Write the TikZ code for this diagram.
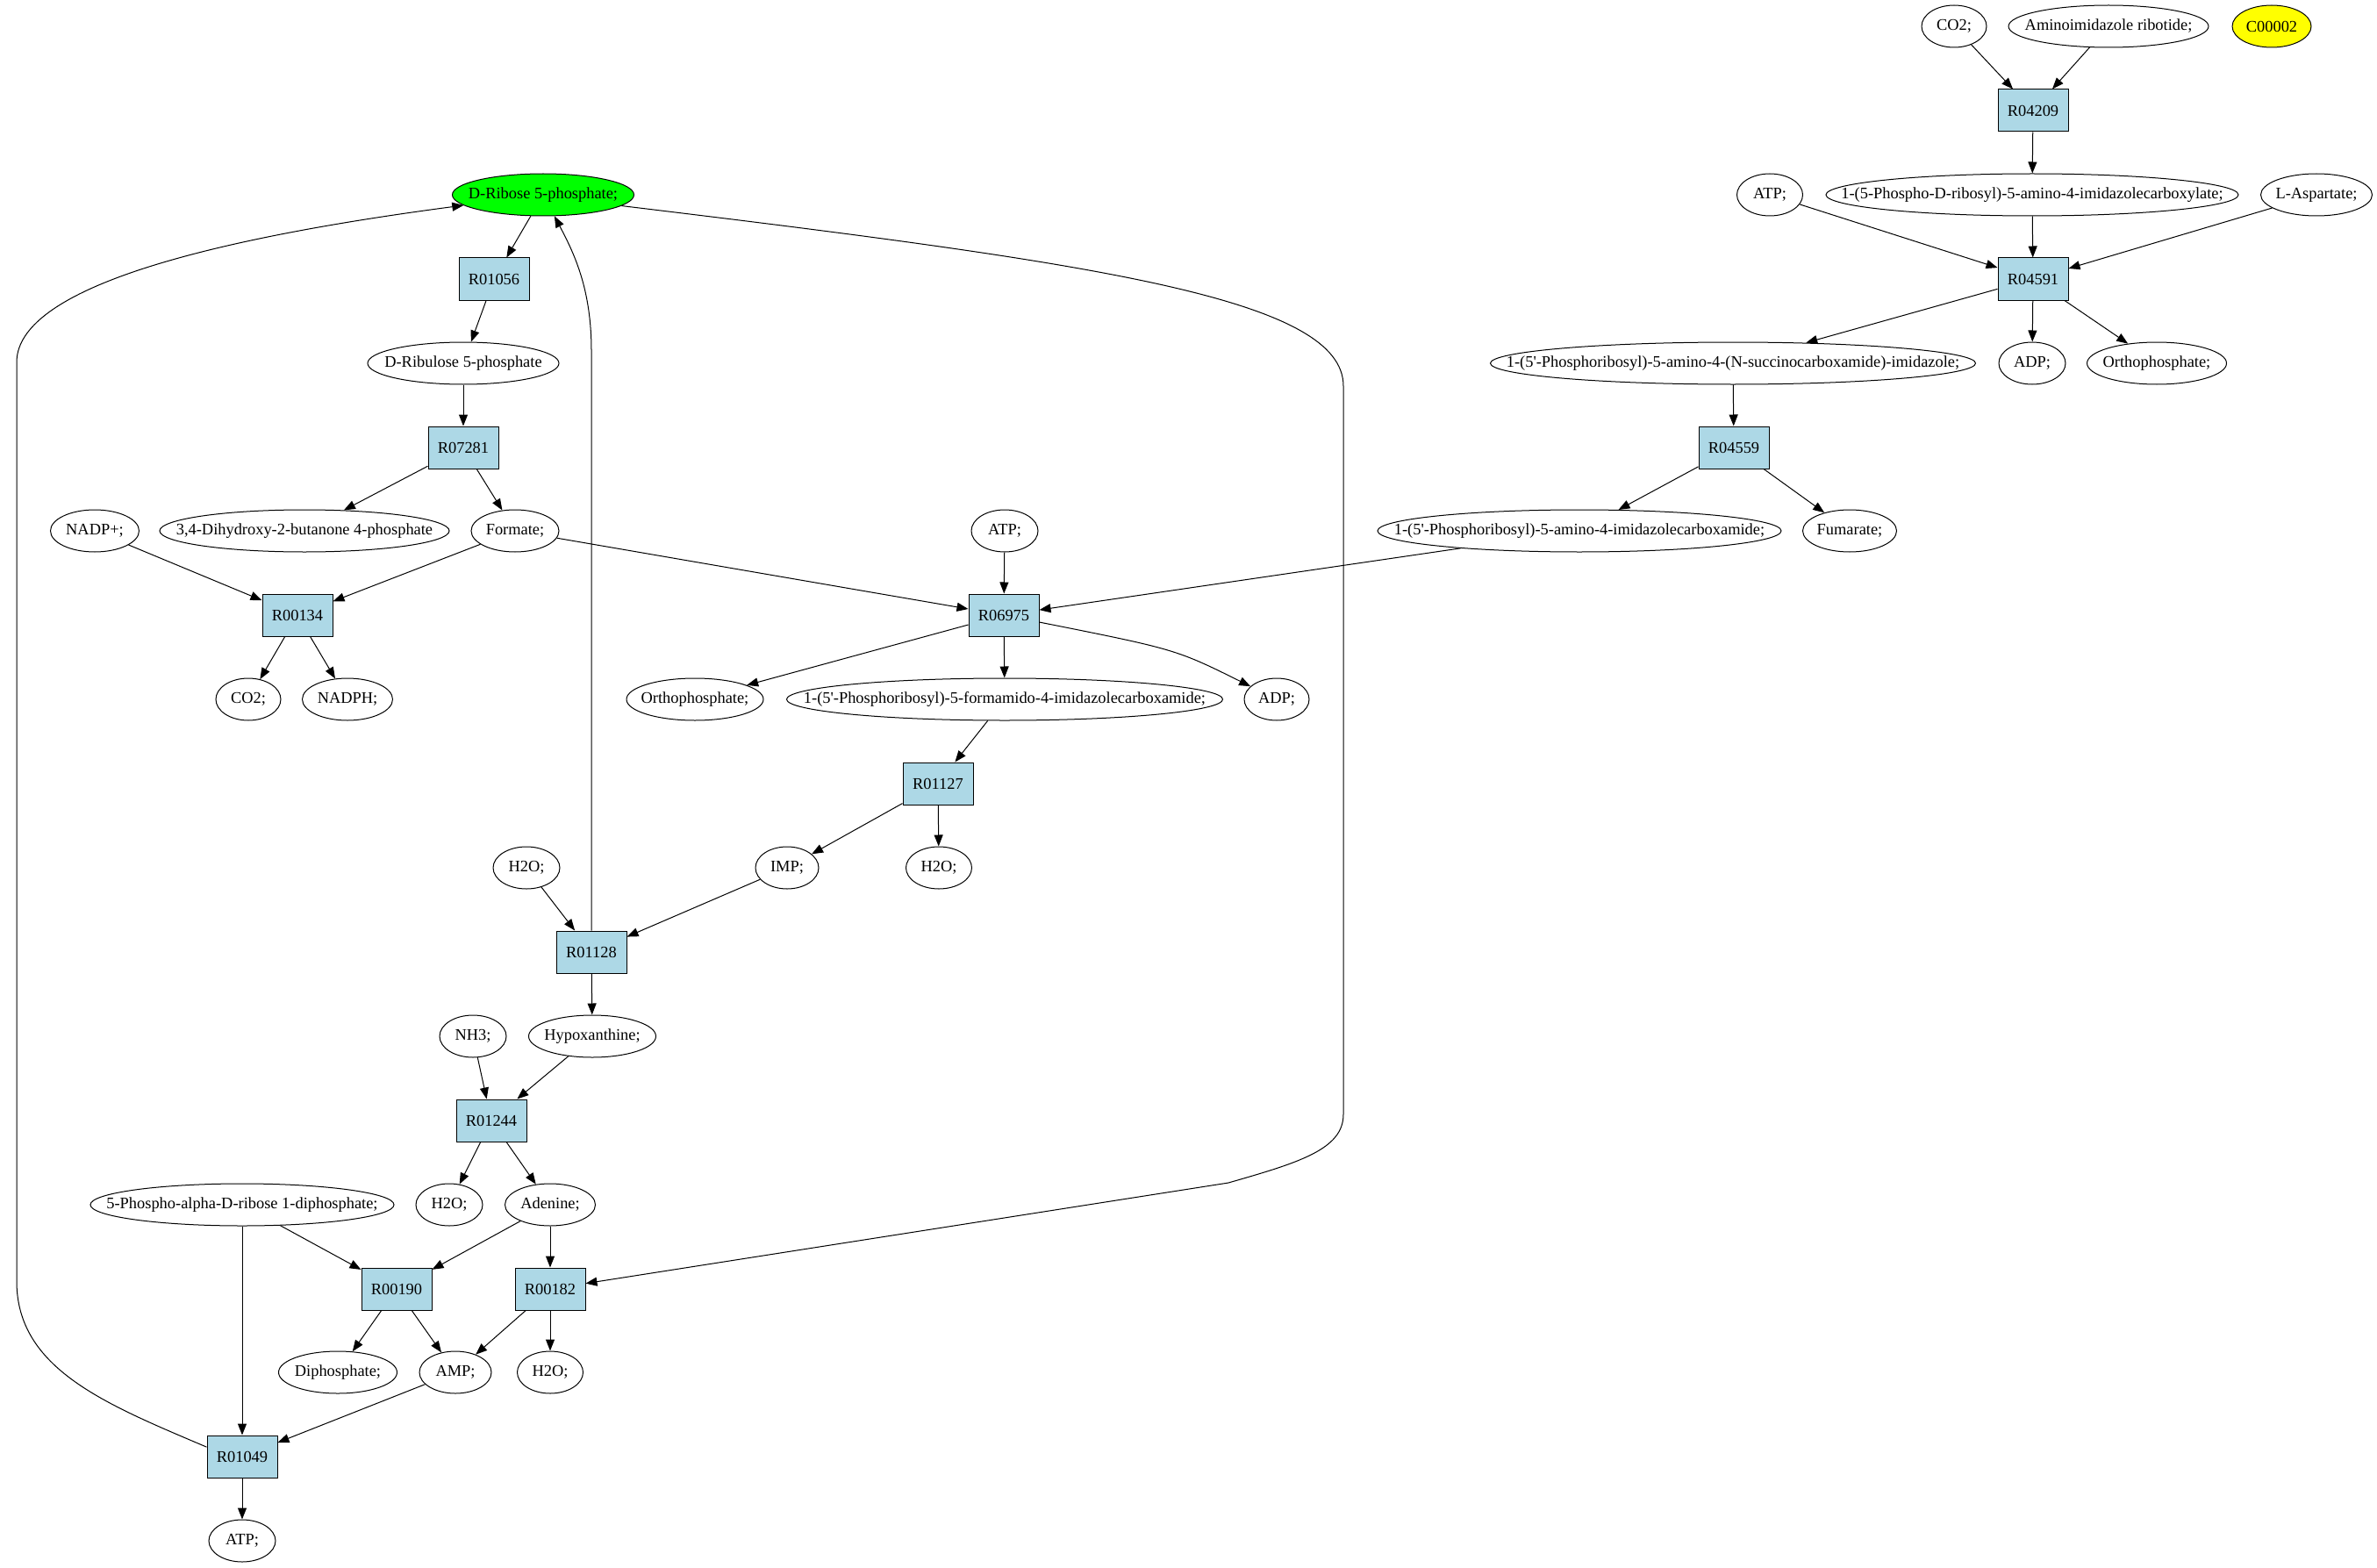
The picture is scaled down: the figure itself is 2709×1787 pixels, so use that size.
\documentclass[tikz,border=0pt]{standalone}
\usepackage{fontspec}
\newfontfamily\gvfont{Liberation Serif}
\usetikzlibrary{arrows.meta,shapes.geometric}
\definecolor{rxnblue}{HTML}{ADD8E6}
\definecolor{srcgreen}{HTML}{00FF00}
\definecolor{tgtyellow}{HTML}{FFFF00}

\begin{document}
\begin{tikzpicture}[x=0.5pt, y=-0.5pt, line width=0.5pt,
        >={Triangle[length=6.5pt,width=5pt]},
        every node/.style={font=\gvfont\fontsize{9.2}{11}\selectfont},
        rxn/.style={draw, fill=rxnblue, minimum width=40pt, minimum height=24pt, inner sep=0pt},
        met/.style={draw, ellipse, inner xsep=-80pt, inner ysep=0pt, minimum height=24pt, minimum width=#1*0.5pt}]

        \useasboundingbox (0,0) rectangle (2709,1787);

        \node[met=74] (co2a) at (2227, 30) {CO2;};
        \node[met=228] (air) at (2403, 30) {Aminoimidazole ribotide;};
        \node[met=90, fill=tgtyellow] (c00002) at (2589, 30) {C00002};
        \node[rxn] (r04209) at (2317, 126) {R04209};

        \node[met=207, fill=srcgreen] (dr5p) at (619, 222) {D-Ribose 5-phosphate;};
        \node[met=75] (atpa) at (2017, 222) {ATP;};
        \node[met=470] (caic) at (2316, 222) {1-(5-Phospho-D-ribosyl)-5-amino-4-imidazolecarboxylate;};
        \node[met=127] (asp) at (2640, 222) {L-Aspartate;};

        \node[rxn] (r01056) at (563, 318) {R01056};
        \node[rxn] (r04591) at (2317, 318) {R04591};

        \node[met=218] (ru5p) at (528, 414) {D-Ribulose 5-phosphate};
        \node[met=553] (saicar) at (1975, 414) {1-(5'-Phosphoribosyl)-5-amino-4-(N-succinocarboxamide)-imidazole;};
        \node[met=76] (adpa) at (2316, 414) {ADP;};
        \node[met=159] (pia) at (2458, 414) {Orthophosphate;};

        \node[rxn] (r07281) at (528, 510) {R07281};
        \node[rxn] (r04559) at (1976, 510) {R04559};

        \node[met=101] (nadp) at (108, 605) {NADP+;};
        \node[met=330] (dhbp) at (347, 605) {3,4-Dihydroxy-2-butanone 4-phosphate};
        \node[met=100] (formate) at (587, 605) {Formate;};
        \node[met=76] (atpb) at (1145, 605) {ATP;};
        \node[met=460] (aicar) at (1800, 605) {1-(5'-Phosphoribosyl)-5-amino-4-imidazolecarboxamide;};
        \node[met=107] (fum) at (2108, 605) {Fumarate;};

        \node[rxn] (r00134) at (339, 701) {R00134};
        \node[rxn] (r06975) at (1144, 701) {R06975};

        \node[met=74] (co2b) at (283, 797) {CO2;};
        \node[met=103] (nadph) at (396, 797) {NADPH;};
        \node[met=156] (pib) at (792, 797) {Orthophosphate;};
        \node[met=497] (faicar) at (1145, 797) {1-(5'-Phosphoribosyl)-5-formamido-4-imidazolecarboxamide;};
        \node[met=74] (adpb) at (1455, 797) {ADP;};

        \node[rxn] (r01127) at (1069, 893) {R01127};

        \node[met=76] (h2oa) at (600, 989) {H2O;};
        \node[met=72] (imp) at (897, 989) {IMP;};
        \node[met=75] (h2ob) at (1070, 989) {H2O;};

        \node[rxn] (r01128) at (674, 1085) {R01128};

        \node[met=76] (nh3) at (539, 1181) {NH3;};
        \node[met=145] (hyp) at (675, 1181) {Hypoxanthine;};

        \node[rxn] (r01244) at (560, 1277) {R01244};

        \node[met=346] (prpp) at (276, 1373) {5-Phospho-alpha-D-ribose 1-diphosphate;};
        \node[met=76] (h2oc) at (512, 1373) {H2O;};
        \node[met=103] (ade) at (627, 1373) {Adenine;};

        \node[rxn] (r00190) at (452, 1469) {R00190};
        \node[rxn] (r00182) at (627, 1469) {R00182};

        \node[met=135] (ppi) at (385, 1564) {Diphosphate;};
        \node[met=82] (amp) at (519, 1564) {AMP;};
        \node[met=75] (h2od) at (627, 1564) {H2O;};

        \node[rxn] (r01049) at (276, 1660) {R01049};
        \node[met=76] (atpc) at (276, 1756) {ATP;};

        \draw[->] (co2a) -- (r04209);
        \draw[->] (air) -- (r04209);
        \draw[->] (r04209) -- (caic);
        \draw[->] (atpa) -- (r04591);
        \draw[->] (caic) -- (r04591);
        \draw[->] (asp) -- (r04591);
        \draw[->] (r04591) -- (saicar);
        \draw[->] (r04591) -- (adpa);
        \draw[->] (r04591) -- (pia);
        \draw[->] (saicar) -- (r04559);
        \draw[->] (r04559) -- (aicar);
        \draw[->] (r04559) -- (fum);

        \draw[->] (aicar) -- (r06975);
        \draw[->] (atpb) -- (r06975);
        \draw[->] (formate) -- (r06975);
        \draw[->] (r06975) -- (pib);
        \draw[->] (r06975) -- (faicar);
        \draw[->] (r06975) .. controls (1340, 740) .. (adpb);
        \draw[->] (faicar) -- (r01127);
        \draw[->] (r01127) -- (imp);
        \draw[->] (r01127) -- (h2ob);
        \draw[->] (imp) -- (r01128);
        \draw[->] (h2oa) -- (r01128);
        \draw[->] (r01128) -- (hyp);

        \draw[->] (dr5p) -- (r01056);
        \draw[->] (r01056) -- (ru5p);
        \draw[->] (ru5p) -- (r07281);
        \draw[->] (r07281) -- (dhbp);
        \draw[->] (r07281) -- (formate);
        \draw[->] (nadp) -- (r00134);
        \draw[->] (formate) -- (r00134);
        \draw[->] (r00134) -- (co2b);
        \draw[->] (r00134) -- (nadph);

        \draw[->] (nh3) -- (r01244);
        \draw[->] (hyp) -- (r01244);
        \draw[->] (r01244) -- (h2oc);
        \draw[->] (r01244) -- (ade);
        \draw[->] (prpp) -- (r00190);
        \draw[->] (ade) -- (r00190);
        \draw[->] (ade) -- (r00182);
        \draw[->] (prpp) -- (r01049);
        \draw[->] (r00190) -- (ppi);
        \draw[->] (r00190) -- (amp);
        \draw[->] (r00182) -- (amp);
        \draw[->] (r00182) -- (h2od);
        \draw[->] (amp) -- (r01049);
        \draw[->] (r01049) -- (atpc);

        \draw[->] (r01128) -- (674, 400) .. controls (674, 330) and (655, 290) .. (dr5p);
        \draw[->] (r01049.165) .. controls (120, 1600) and (19, 1560) .. (19, 1460) -- (19, 413)
            .. controls (19, 340) and (180, 280) .. (dr5p);
        \draw[->] (dr5p.-8) .. controls (1250, 300) and (1531, 340) .. (1531, 440) -- (1531, 1270)
            .. controls (1531, 1310) and (1480, 1325) .. (1400, 1348) -- (r00182);

    \end{tikzpicture}
\end{document}
